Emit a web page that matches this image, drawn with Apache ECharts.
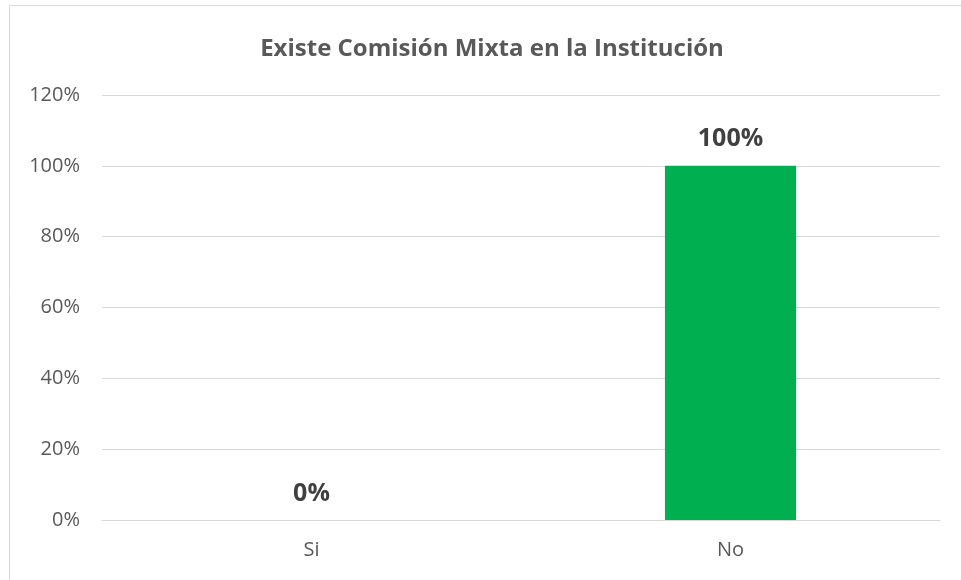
<!DOCTYPE html>
<html><head><meta charset="utf-8">
<script src="https://cdn.jsdelivr.net/npm/echarts@6/dist/echarts.min.js"></script>
<style>html,body{margin:0;padding:0;background:#fff}#c{width:961px;height:580px}</style>
</head><body><div id="c"></div>
<script>
const titleText = 'Existe Comisión Mixta en la Institución';
const categories = ['Si', 'No'];
const values = [0, 100];
const yTicks = [0, 20, 40, 60, 80, 100, 120];

const chart = echarts.init(document.getElementById('c'));
chart.setOption({
  animation: false,
  backgroundColor: '#fff',
  graphic: [{
    type: 'rect', shape: {x: 9.5, y: 5.5, width: 1000, height: 1000},
    style: {fill: 'none', stroke: '#D9D9D9', lineWidth: 1}, silent: true
  }],
  title: {
    text: titleText, left: 487, top: 32, textAlign: 'center',
    textStyle: {fontFamily: 'Open Sans', fontWeight: 'bold', fontSize: 24, color: '#595959'}
  },
  grid: {left: 102, right: 21, top: 95, bottom: 60},
  xAxis: {
    type: 'category', data: categories,
    axisLine: {show: true, lineStyle: {color: '#D9D9D9', width: 1}},
    axisTick: {show: false},
    axisLabel: {color: '#595959', fontFamily: 'Open Sans', fontSize: 20, margin: 20}
  },
  yAxis: {
    type: 'value', min: yTicks[0], max: yTicks[yTicks.length - 1], interval: 20,
    axisLine: {show: false}, axisTick: {show: false},
    splitLine: {lineStyle: {color: '#D9D9D9', width: 1}},
    axisLabel: {color: '#595959', fontFamily: 'Open Sans', fontSize: 20, margin: 22, formatter: v => v + '%'}
  },
  series: [{
    type: 'bar', data: values, barWidth: '31.3%',
    itemStyle: {color: '#00B050'},
    label: {show: true, position: 'top', distance: 14, formatter: p => p.value + '%',
      color: '#404040', fontFamily: 'Open Sans', fontWeight: 'bold', fontSize: 25}
  }]
});
</script></body></html>
